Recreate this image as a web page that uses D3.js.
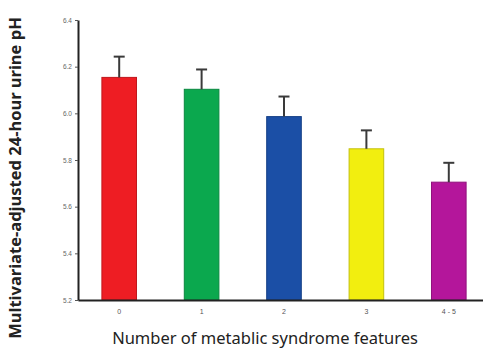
<!DOCTYPE html>
<html>
<head>
<meta charset="utf-8">
<script src="https://cdn.jsdelivr.net/npm/d3@7"></script>
<style>
  body { margin: 0; background: #fff; }
  svg { display: block; }
</style>
</head>
<body>
<div id="chart"></div>
<script>
// data
let groups = ["0", "1", "2", "3", "4 - 5"]
let meanPH = [6.154, 6.103, 5.986, 5.848, 5.705]
let errTop = [6.243, 6.188, 6.072, 5.927, 5.788]
let barColors = ["#ee1d23", "#0ba84e", "#1b4fa6", "#f2ee0f", "#b4169b"]
let yTicks = [5.2, 5.4, 5.6, 5.8, 6.0, 6.2, 6.4]

let width = 483, height = 349

let svg = d3.select("#chart").append("svg")
  .attr("width", width)
  .attr("height", height)

let x = d3.scaleBand()
  .domain(groups)
  .range([78, 490])
  .paddingInner(0.58)
  .paddingOuter(0.29)

let y = d3.scaleLinear()
  .domain([5.2, 6.4])
  .range([300, 20])

// bars
svg.selectAll("rect.bar")
  .data(groups)
  .enter()
  .append("rect")
  .attr("class", "bar")
  .attr("x", d => x(d))
  .attr("width", x.bandwidth())
  .attr("y", (d, i) => y(meanPH[i]))
  .attr("height", (d, i) => y(5.2) - y(meanPH[i]))
  .style("fill", (d, i) => barColors[i])
  .style("stroke", (d, i) => d3.color(barColors[i]).darker(0.6))
  .style("stroke-width", 1)

// error bars
let err = svg.selectAll("g.err")
  .data(groups)
  .enter()
  .append("g")
  .attr("class", "err")
  .style("stroke", "#3a3a3a")
  .style("stroke-width", 2)

err.append("line")
  .attr("x1", d => x(d) + x.bandwidth() / 2)
  .attr("x2", d => x(d) + x.bandwidth() / 2)
  .attr("y1", (d, i) => y(meanPH[i]))
  .attr("y2", (d, i) => y(errTop[i]))

err.append("line")
  .attr("x1", d => x(d) + x.bandwidth() / 2 - 5.5)
  .attr("x2", d => x(d) + x.bandwidth() / 2 + 5.5)
  .attr("y1", (d, i) => y(errTop[i]))
  .attr("y2", (d, i) => y(errTop[i]))

// axes
let yAxis = svg.append("g")
  .attr("transform", "translate(78,0)")
  .call(d3.axisLeft(y).tickValues(yTicks).tickFormat(d3.format(".1f")).tickSize(3).tickSizeOuter(0))

let xAxis = svg.append("g")
  .attr("transform", "translate(0,300)")
  .call(d3.axisBottom(x).tickSize(0).tickPadding(9))

svg.selectAll(".domain")
  .style("stroke", "#222")
  .style("stroke-width", 2)

yAxis.selectAll(".tick line").style("stroke", "#555")
yAxis.selectAll("text")
  .style("font-family", "Liberation Sans")
  .style("font-size", "6.5px")
  .style("fill", "#666")
xAxis.selectAll("text")
  .style("font-family", "Liberation Sans")
  .style("font-size", "7px")
  .style("fill", "#555")

// titles
svg.append("text")
  .attr("x", 265)
  .attr("y", 344)
  .attr("text-anchor", "middle")
  .style("font-family", "Noto Sans")
  .style("font-size", "16.5px")
  .style("fill", "#222")
  .text("Number of metablic syndrome features")

svg.append("text")
  .attr("transform", "translate(21,178) rotate(-90)")
  .attr("text-anchor", "middle")
  .style("font-family", "Noto Sans")
  .style("font-size", "16.5px")
  .style("font-weight", "bold")
  .style("fill", "#222")
  .text("Multivariate-adjusted 24-hour urine pH")
</script>
</body>
</html>
